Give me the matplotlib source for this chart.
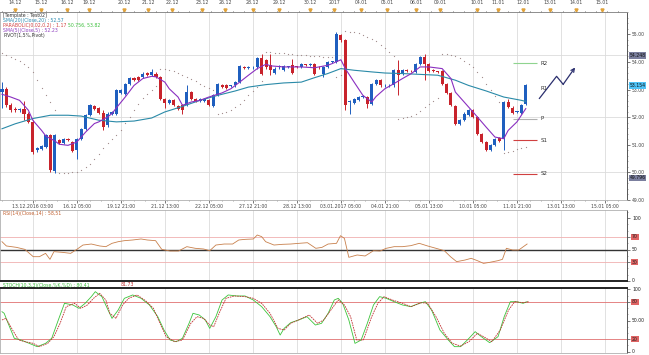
import matplotlib
matplotlib.use("Agg")
import matplotlib.pyplot as plt
import matplotlib.transforms as mtransforms
from matplotlib.ticker import MultipleLocator, FormatStrFormatter
import numpy as np

# ---- price data (4h candles) ----
opens = [52.91, 53.03, 52.43, 52.31, 52.27, 52.31, 52.13, 51.83, 50.80, 50.86,
         50.92, 51.34, 50.05, 51.16, 51.08, 51.22, 51.10, 50.80, 51.22, 51.58,
         52.07, 52.40, 52.35, 52.15, 51.70, 52.13, 52.13, 52.87, 52.85, 53.19,
         53.43, 53.46, 53.46, 53.60, 53.52, 53.58, 53.46, 52.67, 52.51, 52.63,
         52.39, 52.43, 52.43, 52.91, 52.67, 52.58, 52.58, 52.61, 52.41, 52.79,
         53.15, 53.15, 53.12, 53.15, 53.27, 53.80, 53.78, 53.80, 53.80, 54.15,
         54.06, 53.88, 53.60, 53.80, 53.70, 53.82, 53.88, 53.82, 53.82, 53.90,
         53.88, 53.94, 53.82, 53.58, 53.82, 54.00, 54.00, 54.97, 54.78, 52.55,
         52.51, 52.63, 52.73, 52.73, 52.49, 53.19, 53.34, 53.15, 53.15, 53.15,
         53.70, 53.55, 53.70, 53.68, 53.64, 53.94, 54.18, 53.94, 53.70, 53.65,
         53.67, 53.21, 52.88, 52.39, 51.77, 51.91, 52.07, 52.25, 52.01, 51.40,
         51.10, 50.80, 50.98, 51.26, 51.22, 52.55, 52.35, 52.19, 52.15, 52.47]
closes = [53.03, 52.43, 52.27, 52.25, 52.29, 52.13, 51.83, 50.74, 50.88, 50.94,
          51.34, 50.07, 51.34, 51.06, 51.20, 51.16, 50.78, 51.22, 51.58, 52.07,
          52.43, 52.31, 52.15, 51.64, 52.13, 52.19, 52.97, 52.99, 53.21, 53.42,
          53.36, 53.34, 53.58, 53.52, 53.64, 53.46, 52.67, 52.51, 52.63, 52.43,
          52.31, 52.25, 52.91, 52.67, 52.59, 52.67, 52.67, 52.43, 52.79, 53.19,
          53.09, 53.06, 53.14, 53.27, 53.84, 53.78, 53.80, 53.81, 54.15, 53.58,
          53.80, 53.70, 53.76, 53.84, 53.84, 53.83, 53.60, 53.81, 53.94, 53.88,
          53.94, 53.58, 53.80, 53.82, 54.00, 54.01, 55.03, 54.78, 52.43, 52.60,
          52.67, 52.73, 52.75, 52.49, 53.21, 53.34, 53.15, 53.17, 53.16, 53.70,
          53.52, 53.72, 53.68, 53.66, 53.94, 54.18, 53.94, 53.67, 53.69, 53.64,
          53.21, 52.88, 52.43, 51.77, 51.91, 52.13, 52.27, 52.01, 51.40, 51.10,
          50.80, 50.98, 51.22, 51.14, 52.55, 52.37, 52.15, 52.20, 52.43, 53.15]
highs = [53.27, 53.10, 52.50, 52.36, 52.34, 52.60, 52.18, 51.88, 50.92, 50.98,
         51.38, 51.38, 51.40, 51.22, 51.25, 51.26, 51.14, 51.26, 51.62, 52.10,
         52.47, 52.44, 52.38, 52.25, 52.17, 52.23, 53.01, 53.03, 53.25, 53.46,
         53.47, 53.50, 53.62, 53.64, 53.76, 53.62, 53.50, 52.71, 52.67, 52.67,
         52.43, 52.47, 53.15, 52.95, 52.71, 52.71, 52.71, 52.65, 52.83, 53.23,
         53.19, 53.19, 53.18, 53.31, 53.88, 53.84, 53.84, 53.85, 54.19, 54.30,
         54.10, 54.30, 53.80, 53.88, 53.88, 53.87, 54.10, 53.86, 53.98, 53.94,
         53.98, 53.98, 53.86, 53.86, 54.04, 54.05, 55.10, 55.03, 54.82, 52.64,
         52.71, 52.77, 52.79, 52.77, 53.25, 53.38, 53.38, 53.21, 53.19, 53.74,
         54.06, 53.76, 53.74, 53.72, 53.98, 54.22, 54.30, 53.98, 53.74, 53.69,
         53.71, 53.25, 52.92, 52.43, 51.95, 52.17, 52.31, 52.29, 52.05, 51.44,
         51.14, 51.02, 51.26, 51.30, 52.59, 52.67, 52.39, 52.24, 52.47, 53.19]
lows = [52.35, 52.38, 52.20, 52.18, 52.20, 51.90, 51.78, 50.68, 50.74, 50.82,
        50.88, 50.03, 49.98, 51.02, 51.04, 51.12, 50.74, 50.50, 51.18, 51.54,
        52.03, 52.27, 52.10, 51.52, 51.66, 52.09, 52.09, 52.83, 52.81, 53.15,
        53.32, 53.30, 53.42, 53.48, 53.48, 53.42, 52.63, 52.35, 52.47, 52.39,
        52.27, 52.10, 52.39, 52.63, 52.55, 52.54, 52.54, 52.39, 52.37, 52.75,
        53.05, 53.02, 53.08, 53.11, 53.23, 53.74, 53.74, 53.76, 53.76, 53.54,
        53.76, 53.52, 53.56, 53.76, 53.66, 53.78, 53.56, 53.77, 53.78, 53.84,
        53.84, 53.54, 53.76, 53.45, 53.78, 53.96, 53.96, 54.74, 52.25, 52.13,
        52.47, 52.59, 52.69, 52.35, 52.45, 53.15, 53.11, 53.11, 53.11, 53.11,
        52.79, 53.51, 53.64, 53.62, 53.60, 53.90, 53.34, 53.63, 53.65, 53.60,
        53.17, 52.84, 52.39, 51.73, 51.73, 51.87, 52.03, 51.97, 51.36, 51.06,
        50.76, 50.76, 50.94, 51.10, 50.80, 52.33, 52.11, 52.15, 52.11, 52.43]

# parabolic SAR, one value per candle
sar = [54.32, 54.26, 54.18, 54.10, 54.02, 53.92, 53.80, 53.62, 53.35, 53.06,
       52.82, 52.55, 52.25, 49.98, 49.98, 49.99, 50.00, 50.02, 50.08, 50.18,
       50.32, 50.50, 50.68, 50.88, 51.05, 51.20, 51.35, 51.55, 51.78, 52.00,
       52.25, 52.48, 52.68, 52.85, 53.00, 53.12, 53.76, 53.74, 53.70, 53.66,
       53.60, 53.54, 53.46, 53.38, 53.30, 53.22, 53.14, 53.05, 52.98, 52.10,
       52.14, 52.20, 52.27, 52.36, 52.48, 52.64, 52.80, 52.95, 53.10, 53.30,
       54.36, 54.35, 54.34, 54.33, 54.31, 54.30, 54.28, 54.27, 54.25, 54.24,
       54.22, 54.21, 54.20, 54.19, 54.18, 54.17, 53.45, 53.52, 55.12, 55.10,
       55.08, 55.04, 54.98, 54.92, 54.85, 54.75, 54.63, 54.50, 54.36, 54.22,
       51.95, 51.98, 52.02, 52.06, 52.12, 52.22, 52.36, 52.46, 52.58, 52.70,
       54.30, 54.29, 54.26, 54.20, 54.14, 54.04, 53.92, 53.80, 53.65, 53.45,
       53.22, 52.98, 52.75, 52.55, 50.72, 50.74, 50.78, 50.83, 50.88, 50.93]

# moving averages
sma5_x = [0, 2, 4, 6, 7, 9, 10, 12, 13, 15, 17, 19, 21, 22, 24, 25, 26, 28, 30, 32,
          34, 35, 37, 38, 40, 41, 43, 45, 47, 50, 52, 54, 56, 58, 60, 61, 64, 68, 71, 74,
          75, 77, 78, 80, 82, 84, 85, 87, 89, 91, 93, 95, 97, 100, 102, 103, 106, 108, 110, 112,
          114, 115, 117, 118, 119]
sma5 = [52.83, 52.73, 52.61, 52.25, 51.89, 51.52, 51.31, 51.14, 51.02, 50.98,
        51.10, 51.46, 51.77, 51.83, 52.01, 52.13, 52.34, 52.73, 53.15, 53.40,
        53.48, 53.46, 53.27, 53.03, 52.73, 52.43, 52.55, 52.61, 52.73, 52.88,
        53.03, 53.27, 53.52, 53.76, 53.92, 53.86, 53.82, 53.82, 53.79, 53.88,
        53.94, 54.08, 53.76, 53.27, 52.79, 52.55, 52.75, 53.03, 53.21, 53.40,
        53.58, 53.82, 53.82, 53.76, 53.40, 52.91, 52.37, 52.01, 51.64, 51.28,
        51.22, 51.52, 51.83, 52.07, 52.31]
sma20_x = [0, 3, 7, 11, 15, 18, 22, 26, 30, 34, 37, 41, 45, 49, 53, 56, 60, 64, 68, 71,
           74, 75, 77, 80, 84, 87, 91, 95, 99, 103, 106, 110, 114, 118, 119]
sma20 = [51.58, 51.76, 51.95, 52.07, 52.07, 52.04, 51.89, 51.83, 51.86, 51.97,
         52.19, 52.39, 52.61, 52.79, 52.95, 53.09, 53.18, 53.24, 53.27, 53.43,
         53.58, 53.64, 53.76, 53.70, 53.64, 53.60, 53.58, 53.55, 53.52, 53.34,
         53.15, 52.95, 52.73, 52.61, 52.57]

# pivot levels
pivot_names = ["R2", "R1", "P", "S1", "S2"]
pivot_vals = [53.96, 53.03, 51.94, 51.16, 49.95]
pivot_cols = ["#8fd48f", "none", "#b0b0b0", "#d04040", "#d04040"]

# RSI
rsi_x = [0, 1, 3.3, 5.2, 7.1, 8.5, 9.9, 10.9, 11.8, 13.7, 15.6, 17, 18.4, 20.3, 22.2,
         23.6, 25, 26.4, 27.8, 29.7, 31.6, 33, 34.9, 36.3, 38.2, 40.1, 42, 43.9, 45.8,
         47.2, 48.6, 50.5, 52.4, 53.8, 55.2, 57.1, 58, 59, 59.9, 61.8, 63.7, 65.6, 67.5,
         69.4, 71.3, 72.7, 74.1, 76, 76.9, 77.8, 78.8, 80.7, 82.5, 84.4, 85.9, 87.3,
         89.1, 91, 92.9, 94.8, 96.7, 98.6, 100.5, 101.9, 103.3, 105.2, 106.6, 108,
         109.4, 110.8, 112.7, 113.7, 114.6, 116, 117.4, 119.3]
rsi = [62.4, 55.6, 53.4, 50.2, 38.6, 38.6, 43.9, 34.4, 46.6, 45.5, 43.9, 50.2, 57.1,
       58.7, 55.6, 54.5, 59.8, 62.4, 64.0, 65.1, 66.7, 65.1, 64.0, 50.2, 47.6, 47.6,
       54.5, 51.9, 50.8, 48.1, 57.1, 58.7, 58.7, 65.1, 66.1, 66.7, 73.0, 70.4, 62.4,
       57.1, 58.2, 58.7, 59.8, 60.8, 51.9, 53.4, 58.7, 59.8, 71.9, 67.7, 37.6, 41.3,
       39.7, 48.1, 47.6, 51.9, 54.5, 54.5, 56.1, 59.8, 55.6, 51.9, 48.1, 38.6, 30.7,
       33.3, 36.0, 32.3, 28.0, 29.6, 32.3, 34.4, 51.9, 49.2, 49.2, 58.7]

# stochastic %K / %D
stk_x = [0, 0.5, 1.4, 2.8, 4.3, 6.2, 8.0, 9.9, 11.3, 12.8, 14.2, 16.1, 17.5, 18.9, 20.3,
         21.2, 22.7, 24.1, 25.0, 26.4, 27.8, 29.7, 31.6, 33.5, 35.4, 36.8, 38.2, 39.6,
         41.0, 42.5, 43.4, 44.8, 46.2, 47.2, 48.6, 50.0, 51.4, 53.3, 55.2, 57.1, 59.0,
         60.9, 62.3, 63.2, 64.1, 65.6, 67.4, 69.3, 71.2, 72.6, 74.1, 75.5, 76.4, 77.4,
         78.8, 80.2, 81.6, 83.0, 84.4, 85.8, 87.3, 89.1, 91.0, 92.9, 94.8, 96.2, 97.6,
         99.5, 101.4, 102.8, 104.2, 106.1, 107.5, 108.9, 110.8, 112.7, 114.1, 115.5,
         116.9, 118.4, 119.3]
stk = [64.3, 61.7, 45.6, 21.5, 18.8, 13.4, 8.1, 13.4, 21.5, 51.0, 77.8, 75.1, 69.7,
       77.8, 88.5, 96.5, 88.5, 67.0, 53.6, 67.0, 85.8, 91.2, 85.8, 75.1, 56.3, 34.9,
       18.8, 16.1, 21.5, 45.6, 61.7, 59.0, 51.0, 37.5, 56.3, 83.1, 91.2, 89.6, 89.6,
       83.1, 72.4, 56.3, 40.2, 26.8, 37.5, 46.7, 51.0, 56.3, 42.9, 45.6, 61.7, 83.1,
       85.8, 77.8, 51.0, 13.4, 18.8, 45.6, 75.1, 88.5, 85.8, 80.4, 75.1, 72.4, 77.8,
       80.4, 67.0, 34.9, 18.8, 8.1, 8.1, 21.5, 32.2, 24.2, 14.5, 24.2, 56.3, 80.4,
       80.4, 77.8, 80.4]
std_x = [0, 0.9, 2.4, 3.8, 5.2, 7.1, 8.5, 10.4, 11.8, 13.2, 14.6, 16.5, 17.9, 19.4,
         20.8, 22.2, 23.6, 24.5, 25.9, 27.4, 28.8, 30.7, 32.6, 34.4, 35.9, 37.3, 39.2,
         41.0, 42.9, 44.3, 45.8, 47.2, 48.1, 49.5, 50.9, 52.8, 55.2, 57.1, 59.0, 60.9,
         62.7, 64.1, 65.6, 67.4, 69.8, 71.7, 73.1, 75.0, 76.4, 77.8, 79.2, 80.6, 82.1,
         84.0, 85.4, 86.8, 88.7, 91.0, 92.9, 95.3, 96.7, 98.6, 100.5, 102.3, 104.2,
         106.1, 108.0, 109.4, 111.3, 113.2, 115.1, 116.5, 118.4, 119.8]
std = [51.0, 53.6, 34.9, 18.8, 16.1, 13.4, 8.1, 13.4, 24.2, 45.6, 72.4, 77.8, 69.7,
       75.1, 85.8, 93.8, 83.1, 61.7, 53.6, 75.1, 85.8, 91.2, 82.1, 69.7, 45.6, 24.2,
       16.1, 18.8, 45.6, 56.3, 53.6, 42.9, 40.2, 64.3, 85.8, 89.6, 88.5, 85.8, 77.8,
       61.7, 37.5, 34.9, 45.6, 51.0, 59.0, 45.6, 51.0, 69.7, 83.1, 75.1, 56.3, 18.8,
       18.8, 56.3, 77.8, 88.5, 83.1, 77.8, 72.4, 78.8, 77.8, 56.3, 29.5, 13.4, 9.1,
       16.1, 29.5, 24.2, 16.1, 34.9, 67.0, 80.4, 78.8, 80.4]

# axis labels
bottom_labels = ["13.12.2016 03:00", "16.12 05:00", "19.12 21:00", "21.12 13:00",
                 "22.12 05:00", "27.12 21:00", "28.12 13:00", "03.01.2017 05:00",
                 "04.01 21:00", "05.01 13:00", "10.01 05:00", "11.01 21:00",
                 "13.01 13:00", "15.01 05:00"]
top_labels = ["14.12", "15.12", "16.12", "19.12", "20.12", "21.12", "22.12", "23.12",
              "26.12", "28.12", "29.12", "30.12", "2017", "04.01", "05.01", "06.01",
              "09.01", "10.01", "11.01", "12.01", "13.01", "14.01", "15.01"]
top_pos = [3.0, 8.9, 14.8, 19.8, 27.7, 33.2, 38.6, 45.5, 50.7, 57.0, 63.0, 70.0,
           75.5, 81.6, 87.5, 94.1, 99.5, 108.0, 112.7, 118.4, 124.5, 130.5, 136.4]

W, H = 649, 355
FS = 3.3
BULL, BEAR = "#1f5fbf", "#c8232c"
GRID = "#dcdcdc"

fig = plt.figure(figsize=(W / 100, H / 100), dpi=100)
fig.patch.set_facecolor("white")


def panel(top, bottom):
    return fig.add_axes([0, 1 - bottom / H, 627 / W, (bottom - top) / H])


ax = panel(12, 200)
ax_rsi = panel(210, 281)
ax_st = panel(288, 353)

n = len(opens)
x = np.arange(n)
o, c = np.array(opens), np.array(closes)
cols = [BULL if cc >= oo else BEAR for oo, cc in zip(o, c)]
xmax = 142.0
grid_x = np.arange(7, 140, 10)

for a in (ax, ax_rsi, ax_st):
    a.set_xlim(-0.45, xmax)
    for gx in grid_x:
        a.axvline(gx, color=GRID, lw=0.6, zorder=0)
    for s in ("left", "top", "bottom"):
        a.spines[s].set_color("#b0b0b0")
        a.spines[s].set_linewidth(0.6)
    a.spines["right"].set_color("#555555")
    a.spines["right"].set_linewidth(0.7)
    a.yaxis.tick_right()
    a.tick_params(axis="both", labelsize=FS, length=2, width=0.5, pad=1.2,
                  colors="#444444")
    a.tick_params(which="minor", length=1, width=0.4, colors="#666666")

# ---- main price panel ----
ax.set_ylim(49.0, 55.81)
for hy in (50, 52, 54.24):
    ax.axhline(hy, color=GRID, lw=0.6, zorder=0)
ax.vlines(x, lows, highs, colors=cols, lw=0.7, zorder=3)
ax.bar(x, np.maximum(np.abs(c - o), 0.03), bottom=np.minimum(o, c), width=0.7,
       color=cols, zorder=4, linewidth=0)
ax.plot(sma20_x, sma20, color="#2a8aa8", lw=0.8, zorder=5)
ax.plot(sma5_x, sma5, color="#8a2fc0", lw=0.8, zorder=5)
ax.plot(x, sar, ls="", marker="o", ms=0.9, mew=0, color="#a08c8c", zorder=2)

for name, val, col in zip(pivot_names, pivot_vals, pivot_cols):
    if col != "none":
        ax.hlines(val, 116.1, 121.6, colors=col, lw=0.8)
    ax.text(122.3, val, name, fontsize=4, va="center", ha="left", color="#333333")

# hand drawn zig-zag arrow
ax.plot([122.1, 126.0, 127.5], [52.68, 53.48, 53.19], color="#2b2f6e", lw=0.9)
ax.annotate("", xy=(130.2, 53.80), xytext=(127.5, 53.19),
            arrowprops=dict(arrowstyle="->", color="#2b2f6e", lw=0.9,
                            mutation_scale=6, shrinkA=0, shrinkB=0))

ax.yaxis.set_major_locator(MultipleLocator(1))
ax.yaxis.set_minor_locator(MultipleLocator(0.2))
ax.yaxis.set_major_formatter(FormatStrFormatter("%.2f"))
ax.set_xticks(grid_x)
ax.set_xticklabels(bottom_labels)
ax.xaxis.set_minor_locator(MultipleLocator(2.5))
ax.tick_params(axis="x", which="both", direction="out")

trans = mtransforms.blended_transform_factory(ax.transAxes, ax.transData)
for val, s, fc, tc in [(54.24, "54.248", "#7b7f9e", "#111111"),
                       (53.154, "53.154", "#4fc3f7", "#111111"),
                       (49.80, "49.796", "#7b7f9e", "#111111")]:
    ax.text(1.004, val, s, transform=trans, fontsize=FS, va="center", ha="left",
            color=tc, bbox=dict(boxstyle="square,pad=0.15", fc=fc, ec="none"),
            clip_on=False)

ax_top = ax.twiny()
ax_top.set_xlim(ax.get_xlim())
ax_top.set_xticks(top_pos)
ax_top.set_xticklabels(top_labels)
ax_top.xaxis.set_minor_locator(MultipleLocator(2.5))
ax_top.tick_params(axis="x", labelsize=FS, length=2, width=0.5, pad=3,
                   colors="#444444")
ax_top.tick_params(axis="x", which="minor", length=1, width=0.4)
for s in ("left", "right", "bottom"):
    ax_top.spines[s].set_visible(False)
ax_top.spines["top"].set_color("#888888")
ax_top.spines["top"].set_linewidth(0.6)
ax_top.plot(top_pos, [1.012] * len(top_pos), transform=ax_top.get_xaxis_transform(),
            ls="", marker="v", ms=2.2, color="#e0a23a", clip_on=False)


def ftext(px, py, s, color, size=FS):
    fig.text(px / W, 1 - py / H, s, color=color, fontsize=size, va="center", ha="left")


ftext(3, 15.5, "[Template : Test02]", "#333333")
ftext(3, 20.5, "SMA(20)(Close,20) : 52,57", "#2a8ab0")
ftext(3, 25.5, "PARABOLIC(0.02,0.2) : 1.17", "#d04040")
ftext(68, 25.5, "50.756, 53.82", "#3cbf3c")
ftext(3, 30.5, "SMA(5)(Close,5) : 52.23", "#9040c0")
ftext(3, 35, "PIVOT(1,5%,Pivot)", "#333333")

# ---- RSI panel ----
ax_rsi.set_ylim(0, 112.7)
ax_rsi.axhline(70, color="#f0b0b0", lw=0.6)
ax_rsi.axhline(30, color="#f0b0b0", lw=0.6)
ax_rsi.axhline(50, color="#333333", lw=1.0)
ax_rsi.plot(rsi_x, rsi, color="#c8804c", lw=0.6)
ax_rsi.spines["bottom"].set_color("#222222")
ax_rsi.spines["bottom"].set_linewidth(1.4)
ax_rsi.set_xticks(grid_x)
ax_rsi.set_xticklabels([])
ax_rsi.tick_params(axis="x", length=0)
ax_rsi.set_yticks([0, 30, 50, 70, 100])
ax_rsi.set_yticklabels([])
ax_rsi.yaxis.set_minor_locator(MultipleLocator(10))
ftext(3, 214, "RSI(14)(Close,14) : 58,51", "#c06030")

# ---- Stochastic panel ----
ax_st.set_ylim(-2.1, 102.4)
ax_st.axhline(80, color="#e07070", lw=0.6)
ax_st.axhline(20, color="#e07070", lw=0.6)
ax_st.plot(stk_x, stk, color="#3cc43c", lw=0.6)
ax_st.plot(std_x, std, color="#c03030", lw=0.6, ls=(0, (2, 1)))
ax_st.spines["top"].set_color("#222222")
ax_st.spines["top"].set_linewidth(1.4)
ax_st.set_xticks(grid_x)
ax_st.set_xticklabels([])
ax_st.tick_params(axis="x", length=0)
ax_st.set_yticks([0, 20, 50, 80, 100])
ax_st.set_yticklabels([])
ax_st.yaxis.set_minor_locator(MultipleLocator(10))
ftext(3, 285, "STOCH(10,3,3)(Close,%K,%D) : 80.41", "#3cbf3c")
ftext(121, 285, "81.73", "#c03030")

for a, items in [(ax_rsi, [(100, "100", None), (70, "70", "#e06464"), (50, "50", None),
                            (30, "30", "#e06464"), (0, "0", None)]),
                 (ax_st, [(100, "100", None), (80, "80", "#e06464"), (50, "50.00", None),
                          (20, "20", "#e06464"), (0, "0", None)])]:
    tr = mtransforms.blended_transform_factory(a.transAxes, a.transData)
    for val, s, fc in items:
        kw = {}
        if fc:
            kw["bbox"] = dict(boxstyle="square,pad=0.15", fc=fc, ec="none")
        a.text(1.008, val, s, transform=tr, fontsize=FS, va="center", ha="left",
               color="#222222", clip_on=False, **kw)

fig.savefig("out.png", dpi=100)
